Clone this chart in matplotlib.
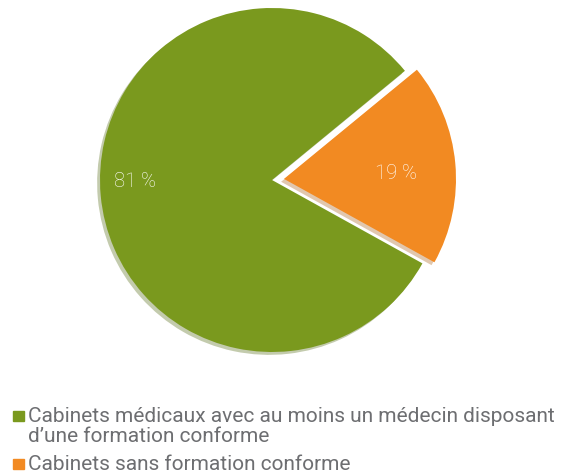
import matplotlib.pyplot as plt
from matplotlib.patches import Rectangle

# Données
labels = ["Cabinets sans formation conforme",
          "Cabinets médicaux avec au moins un médecin disposant\nd\u2019une formation conforme"]
values = [19, 81]
colors = ["#f28a22", "#7a991e"]

plt.rcParams['font.family'] = ['Roboto', 'DejaVu Sans']

fig = plt.figure(figsize=(5.63, 4.74), dpi=100)
W, H = 563, 474
# axes placed so that pie radius = 172 px, centre at (272, 180)
ax = fig.add_axes([100 / W, 1 - 352 / H, 344 / W, 344 / H])

wedges, texts, autotexts = ax.pie(values, colors=colors, startangle=-29,
                                  explode=[0.07, 0], autopct='%d %%',
                                  pctdistance=0.8,
                                  shadow={'ox': -0.012, 'oy': -0.012, 'shade': 0.3, 'alpha': 0.35},
                                  wedgeprops={'linewidth': 0},
                                  textprops={'color': 'white', 'fontsize': 14.5})
for t in autotexts:
    t.set_fontweight('light')
# orange label sits closer to its apex, green label on the horizontal
x, y = autotexts[0].get_position()
autotexts[0].set_position((x * 0.82 + 0.01, y * 0.45))
x, y = autotexts[1].get_position()
autotexts[1].set_position((x, y * 0.15))
ax.set_xlim(-1, 1)
ax.set_ylim(-1, 1)
ax.set_aspect('equal')

# legend drawn by hand: square aligned with the first line of its label
order = [1, 0]
tops = [404, 452]
for i, top in zip(order, tops):
    fig.patches.append(Rectangle((13 / W, 1 - (top + 17) / H), 11 / W, 10 / H,
                                 transform=fig.transFigure, color=colors[i]))
    fig.text(28 / W, 1 - (top + 3) / H, labels[i], ha='left', va='top',
             fontsize=15, color='#6d6e71', linespacing=1.1)

fig.savefig("out.png", dpi=100)
